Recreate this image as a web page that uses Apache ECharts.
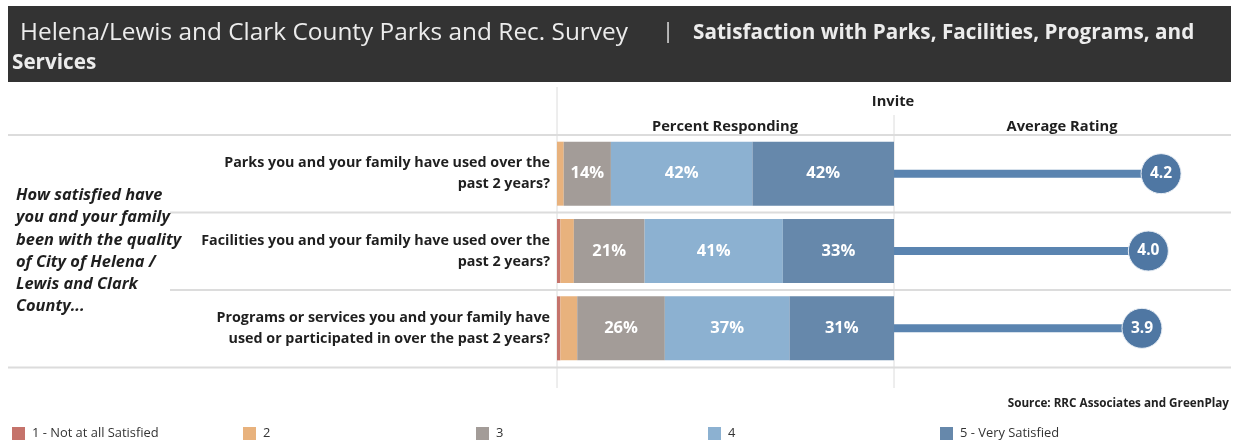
<!DOCTYPE html>
<html>
<head>
<meta charset="utf-8">
<script src="https://cdn.jsdelivr.net/npm/echarts@6/dist/echarts.min.js"></script>
<style>
  html, body { margin: 0; padding: 0; background: #fff; }
  #chart { width: 1233px; height: 440px; }
</style>
</head>
<body>
<div id="chart"></div>
<script>
// Survey questions (two display lines each)
const questions = [
  'Parks you and your family have used over the\npast 2 years?',
  'Facilities you and your family have used over the\npast 2 years?',
  'Programs or services you and your family have\nused or participated in over the past 2 years?'
];

// Percent responding at each satisfaction level
const levelNames = ['1 - Not at all Satisfied', '2', '3', '4', '5 - Very Satisfied'];
const level1 = [0, 1, 1];
const level2 = [2, 4, 5];
const level3 = [14, 21, 26];
const level4 = [42, 41, 37];
const level5 = [42, 33, 31];

// Average rating on the 1-5 scale
const avgRating = [4.2, 4.0, 3.9];

const levelColors = ['#c5736b', '#e8b27d', '#a39c98', '#8cb1d1', '#6688ab'];
const levelData = [level1, level2, level3, level4, level5];

const FONT = '"Open Sans", "Noto Sans", sans-serif';
const LINE = '#dcdcdc';

const chart = echarts.init(document.getElementById('chart'), null, { renderer: 'canvas' });

const gridTop = 135, gridH = 232;

const stackSeries = levelData.map((vals, i) => ({
  name: levelNames[i],
  type: 'bar',
  stack: 'pct',
  xAxisIndex: 0,
  yAxisIndex: 0,
  barWidth: 64,
  data: vals,
  itemStyle: { color: levelColors[i] },
  label: {
    show: i >= 2,
    position: 'inside',
    formatter: '{c}%',
    color: '#fff',
    fontFamily: FONT,
    fontWeight: 'bold',
    fontSize: 16.5
  },
  emphasis: { disabled: true }
}));

const legends = levelNames.map((n, i) => ({
  data: [n],
  left: [7, 238, 471, 703, 935][i],
  top: 422,
  itemWidth: 13,
  itemHeight: 13,
  itemGap: 0,
  icon: 'rect',
  selectedMode: false,
  textStyle: { fontFamily: FONT, fontSize: 12.9, color: '#333', padding: [0, 0, 0, 2] }
}));

const leftText = [
  'How satisfied have',
  'you and your family',
  'been with the quality',
  'of City of Helena /',
  'Lewis and Clark',
  'County...'
].join('\n');

chart.setOption({
  animation: false,
  backgroundColor: '#fff',
  grid: [
    { left: 557, top: gridTop, width: 337, height: gridH },
    { left: 894, top: gridTop, width: 337, height: gridH }
  ],
  xAxis: [
    { gridIndex: 0, type: 'value', min: 0, max: 100, show: false },
    { gridIndex: 1, type: 'value', min: 0, max: 5.3, show: false }
  ],
  yAxis: [
    {
      gridIndex: 0, type: 'category', data: questions, inverse: true,
      axisLine: { show: false }, axisTick: { show: false },
      axisLabel: {
        align: 'right', margin: 7, fontFamily: FONT, fontWeight: 'bold',
        fontSize: 14.3, lineHeight: 21, color: '#1f1f1f'
      }
    },
    {
      gridIndex: 1, type: 'category', data: questions, inverse: true,
      show: false
    }
  ],
  legend: legends,
  series: stackSeries.concat([
    {
      name: 'ratingLine',
      type: 'bar',
      xAxisIndex: 1,
      yAxisIndex: 1,
      barWidth: 8,
      data: avgRating,
      itemStyle: { color: '#5a84b0' },
      emphasis: { disabled: true },
      z: 2
    },
    {
      name: 'ratingDot',
      type: 'scatter',
      xAxisIndex: 1,
      yAxisIndex: 1,
      symbol: 'circle',
      symbolSize: 40,
      data: avgRating,
      itemStyle: { color: '#4f77a3', opacity: 1, borderColor: '#e8eef5', borderWidth: 1 },
      label: {
        show: true,
        position: 'inside',
        formatter: p => p.value.toFixed(1),
        color: '#fff',
        fontFamily: FONT,
        fontWeight: 'bold',
        fontSize: 15.5
      },
      emphasis: { disabled: true },
      z: 3
    }
  ]),
  graphic: [
    // header band
    { type: 'rect', shape: { x: 8, y: 6, width: 1223, height: 76 }, style: { fill: '#333333' }, z: 0 },
    { type: 'text', x: 20, y: 33, style: { text: 'Helena/Lewis and Clark County Parks and Rec. Survey', fill: '#ececec', font: '24.4px ' + FONT, textVerticalAlign: 'middle' } },
    { type: 'text', x: 662, y: 32, style: { text: '|', fill: '#d8d8d8', font: '22px ' + FONT, textVerticalAlign: 'middle' } },
    { type: 'text', x: 693, y: 33, style: { text: 'Satisfaction with Parks, Facilities, Programs, and', fill: '#ececec', font: 'bold 20.7px ' + FONT, textVerticalAlign: 'middle' } },
    { type: 'text', x: 12, y: 63, style: { text: 'Services', fill: '#ececec', font: 'bold 20.7px ' + FONT, textVerticalAlign: 'middle' } },

    // column headers
    { type: 'text', x: 893, y: 102, style: { text: 'Invite', fill: '#1f1f1f', font: 'bold 14.7px ' + FONT, textAlign: 'center', textVerticalAlign: 'middle' } },
    { type: 'text', x: 725, y: 127, style: { text: 'Percent Responding', fill: '#1f1f1f', font: 'bold 14.7px ' + FONT, textAlign: 'center', textVerticalAlign: 'middle' } },
    { type: 'text', x: 1062, y: 127, style: { text: 'Average Rating', fill: '#1f1f1f', font: 'bold 14.7px ' + FONT, textAlign: 'center', textVerticalAlign: 'middle' } },

    // table rules
    { type: 'line', shape: { x1: 8, y1: 135, x2: 1231, y2: 135 }, style: { stroke: LINE, lineWidth: 2 } },
    { type: 'line', shape: { x1: 170, y1: 212.5, x2: 1231, y2: 212.5 }, style: { stroke: LINE, lineWidth: 2 } },
    { type: 'line', shape: { x1: 170, y1: 290, x2: 1231, y2: 290 }, style: { stroke: LINE, lineWidth: 2 } },
    { type: 'line', shape: { x1: 8, y1: 367.5, x2: 1231, y2: 367.5 }, style: { stroke: LINE, lineWidth: 2 } },
    { type: 'line', shape: { x1: 557, y1: 87, x2: 557, y2: 388 }, style: { stroke: LINE, lineWidth: 1 } },
    { type: 'line', shape: { x1: 894, y1: 115, x2: 894, y2: 388 }, style: { stroke: LINE, lineWidth: 1 } },

    // row group label
    { type: 'text', x: 16, y: 251, style: { text: leftText, fill: '#1f1f1f', font: 'italic bold 16.4px ' + FONT, lineHeight: 22.3, textVerticalAlign: 'middle' } },

    // source
    { type: 'text', x: 1229, y: 404, style: { text: 'Source: RRC Associates and GreenPlay', fill: '#222', font: 'bold 11.7px ' + FONT, textAlign: 'right', textVerticalAlign: 'middle' } }
  ]
});
</script>
</body>
</html>
